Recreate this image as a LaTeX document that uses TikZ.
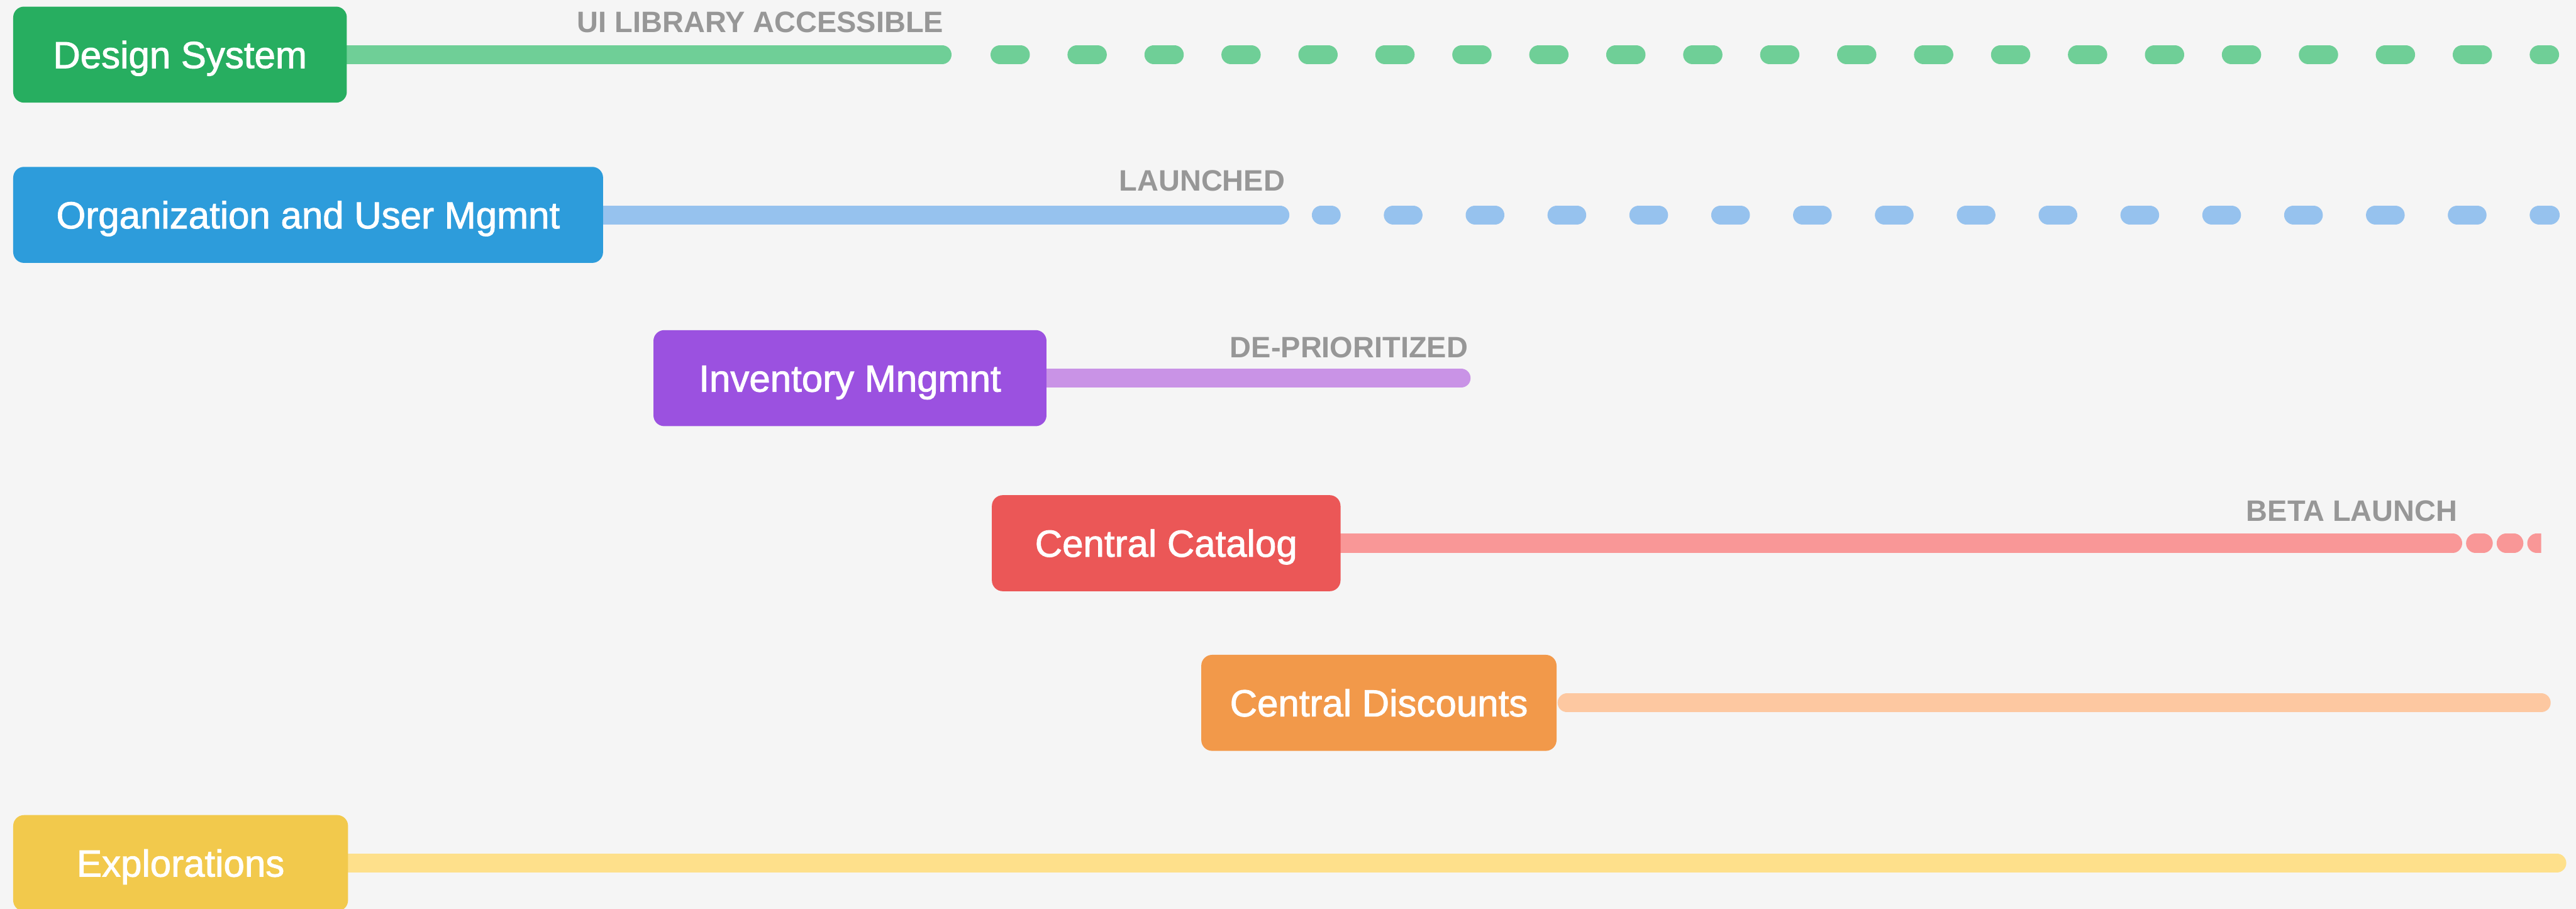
\documentclass[tikz,border=0pt]{standalone}
\usepackage{fontspec}
\setmainfont{Liberation Sans}
\newfontfamily\taskfont[FakeBold=1.6]{Liberation Sans}
\usepackage{tikz}
\usetikzlibrary{positioning, backgrounds}

\definecolor{pagegray}{HTML}{F5F5F5}
\definecolor{labelgray}{HTML}{979797}
\definecolor{dsgreen}{HTML}{27AE60}
\definecolor{dsline}{HTML}{6FCF97}
\definecolor{oublue}{HTML}{2D9CDB}
\definecolor{ouline}{HTML}{96C2EE}
\definecolor{invpurple}{HTML}{9B51E0}
\definecolor{invline}{HTML}{C993E6}
\definecolor{ccred}{HTML}{EB5757}
\definecolor{ccline}{HTML}{F99797}
\definecolor{cdorange}{HTML}{F2994A}
\definecolor{cdline}{HTML}{FDC8A1}
\definecolor{exyellow}{HTML}{F2C94C}
\definecolor{exline}{HTML}{FEE08B}

\begin{document}
\begin{tikzpicture}[
task node/.style={rectangle, rounded corners=0.18cm, inner sep=0pt, minimum height=1.6cm, text height=12.8pt, text depth=0pt, text=white, font=\taskfont\fontsize{17.9}{21}\selectfont},
track line/.style={line width=0.315cm, line cap=round},
milestone/.style={text=labelgray, inner sep=0pt, anchor=base east, font=\fontsize{14}{16}\selectfont\bfseries}]

\useasboundingbox (0,0) rectangle (42.93,-15.14);

\node[task node, fill=dsgreen, minimum width=5.56cm] (DS) at (3.00,-0.91) {Design System};
\node[task node, fill=oublue, minimum width=9.83cm] (OU) at (5.135,-3.58) {Organization and User Mgmnt};
\node[task node, fill=invpurple, minimum width=6.55cm] (IM) at (14.165,-6.30) {Inventory Mngmnt};
\node[task node, fill=ccred, minimum width=5.81cm] (CC) at (19.435,-9.05) {Central Catalog};
\node[task node, fill=cdorange, minimum width=5.92cm] (CD) at (22.98,-11.71) {Central Discounts};
\node[task node, fill=exyellow, minimum width=5.58cm] (EX) at (3.01,-14.38) {Explorations};

\coordinate (DSsolid) at (15.70,-0.91);
\coordinate (DSdash) at (16.665,-0.91);
\coordinate (DSend) at (42.49,-0.91);
\coordinate (OUsolid) at (21.33,-3.58);
\coordinate (OUdash) at (22.02,-3.58);
\coordinate (OUend) at (42.50,-3.58);
\coordinate (IMend) at (24.35,-6.30);
\coordinate (CCsolid) at (40.875,-9.05);
\coordinate (CCdot) at (41.255,-9.05);
\coordinate (CCend) at (42.50,-9.05);
\coordinate (CDstart) at (26.115,-11.71);
\coordinate (CDend) at (42.35,-11.71);
\coordinate (EXend) at (42.61,-14.38);

\node[milestone] (UIlib) at (15.73,-0.54) {UI LIBRARY ACCESSIBLE};
\node[milestone] (launched) at (21.42,-3.18) {LAUNCHED};
\node[milestone] (deprio) at (24.47,-5.96) {DE-PRIORITIZED};
\node[milestone] (beta) at (40.96,-8.68) {BETA LAUNCH};

\begin{scope}[on background layer]
\fill[pagegray] (0,0) rectangle (42.93,-15.14);

\path[track line]
(DS.east) edge[dsline] (DSsolid)
(OU.east) edge[ouline] (OUsolid)
(IM.east) edge[invline] (IMend)
(CC.east) edge[ccline] (CCsolid)
(CDstart) edge[cdline] (CDend)
(EX.east) edge[exline] (EXend)
;

\draw[track line, dsline, dash pattern=on 0.34cm off 0.9425cm] (DSdash) -- (DSend);
\draw[track line, ouline, dash pattern=on 0.33cm off 1.034cm, dash phase=0.165cm] (OUdash) -- (OUend);
\begin{scope}
\clip (0,0) rectangle (42.35,-15.14);
\draw[track line, ccline, dash pattern=on 0.13cm off 0.38cm] (CCdot) -- (CCend);
\end{scope}
\end{scope}
\end{tikzpicture}
\end{document}
